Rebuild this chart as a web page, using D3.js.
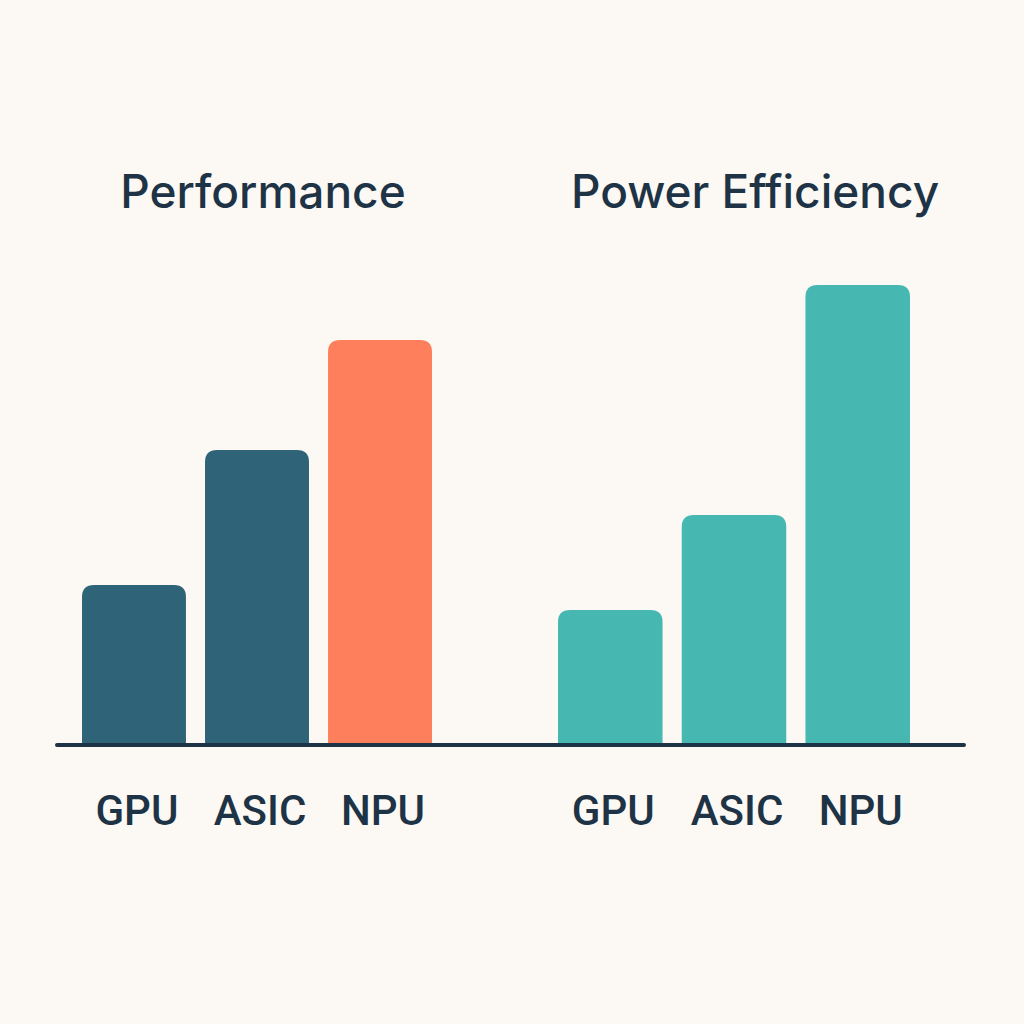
<!DOCTYPE html>
<html>
<head>
<meta charset="utf-8">
<script src="https://cdn.jsdelivr.net/npm/d3@7"></script>
<style>
  html, body { margin: 0; padding: 0; background: #fcf9f4; }
</style>
</head>
<body>
<script>
// data
const categories = ['GPU', 'ASIC', 'NPU'];
const panelTitles = ['Performance', 'Power Efficiency'];
const performance = [32, 59, 81];
const powerEfficiency = [27, 46, 92];

// constants
const width = 1024;
const height = 1024;
const baseY = 745;
const radius = 12;
const ink = '#1e3446';

const svg = d3.select('body')
  .append('svg')
  .attr('width', width)
  .attr('height', height);

svg.append('rect')
  .attr('width', width)
  .attr('height', height)
  .attr('fill', '#fcf9f4');

// shared value scale
const scaleY = d3.scaleLinear()
  .domain([0, 100])
  .range([baseY, 245]);

// one panel per metric
const panels = [
  { title: panelTitles[0], values: performance, range: [82, 432], titleX: 263, colors: ['#2f6378', '#2f6378', '#fe7f5c'] },
  { title: panelTitles[1], values: powerEfficiency, range: [558, 910], titleX: 755, colors: ['#46b8b1', '#46b8b1', '#46b8b1'] },
];

// bar with rounded top corners only
const barPath = (x, y, w, h, r) => `M${x},${y + h}V${y + r}Q${x},${y} ${x + r},${y}H${x + w - r}Q${x + w},${y} ${x + w},${y + r}V${y + h}Z`;

panels.forEach((p) => {
  const scaleX = d3.scaleBand()
    .domain(categories)
    .range(p.range)
    .paddingInner(0.155)
    .paddingOuter(0);

  const g = svg.append('g');

  g.selectAll('path.bar')
    .data(p.values)
    .join('path')
    .attr('class', 'bar')
    .attr('fill', (d, i) => p.colors[i])
    .attr('d', (d, i) => barPath(scaleX(categories[i]), scaleY(d), scaleX.bandwidth(), baseY - scaleY(d), radius));

  g.selectAll('text.label')
    .data(categories)
    .join('text')
    .attr('class', 'label')
    .attr('x', (d) => scaleX(d) + scaleX.bandwidth() / 2 + 3)
    .attr('y', 825)
    .attr('text-anchor', 'middle')
    .attr('font-family', 'Roboto, sans-serif')
    .attr('font-weight', 500)
    .attr('font-size', 42)
    .attr('fill', ink)
    .text((d) => d);

  g.append('text')
    .attr('x', p.titleX)
    .attr('y', 208)
    .attr('text-anchor', 'middle')
    .attr('font-family', 'Inter, sans-serif')
    .attr('font-weight', 500)
    .attr('font-size', 46)
    .attr('fill', ink)
    .text(p.title);
});

// baseline
svg.append('line')
  .attr('x1', 57)
  .attr('x2', 964)
  .attr('y1', baseY)
  .attr('y2', baseY)
  .attr('stroke', ink)
  .attr('stroke-width', 4)
  .attr('stroke-linecap', 'round');
</script>
</body>
</html>
